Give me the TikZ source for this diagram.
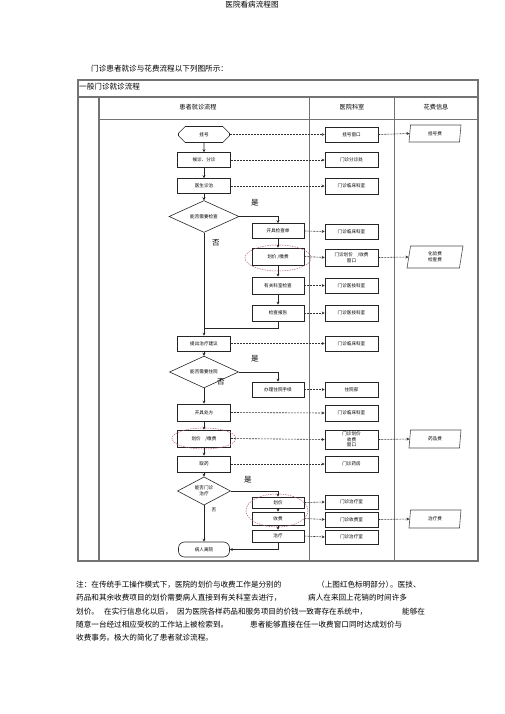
\documentclass[tikz,border=0pt]{standalone}
\usepackage{fontspec}
\newfontfamily\cjk{Noto Sans CJK SC}
\usetikzlibrary{shapes.geometric,shapes.misc,arrows.meta}
\definecolor{gridgray}{RGB}{115,115,115}
\definecolor{ovalred}{RGB}{180,100,110}
\newcommand\pagefont{\cjk\fontsize{7.6}{9}\selectfont}
\newcommand\boxfont{\cjk\fontsize{4.6}{5.6}\selectfont}

\begin{document}
\begin{tikzpicture}[x=1pt,y=-1pt]
\tikzset{stepbox/.style={draw=black!85, line width=0.6pt, minimum width=53pt, minimum height=15pt, inner sep=0pt, align=center, font=\boxfont},
  sidebox/.style={stepbox, minimum width=52pt},
  hexbox/.style={stepbox, chamfered rectangle, chamfered rectangle xsep=6pt, chamfered rectangle ysep=8pt, minimum width=51pt, minimum height=16pt},
  ask/.style={draw=black!85, line width=0.6pt, diamond, inner sep=0pt, align=center, font=\boxfont},
  costbox/.style={draw=black!70, line width=0.6pt, trapezium, trapezium left angle=70, trapezium right angle=110, trapezium stretches body, minimum width=52pt, minimum height=17pt, inner sep=0pt, align=center, font=\boxfont},
  flow/.style={draw=black!85, line width=0.6pt, -{Stealth[length=3pt,width=3pt]}},
  link/.style={draw=black!85, line width=0.6pt},
  cost/.style={draw=black!80, line width=0.6pt, dash pattern=on 2pt off 1pt, -{Stealth[length=3pt,width=3pt]}},
  oval/.style={draw=ovalred, line width=0.5pt, dash pattern=on 1.5pt off 1pt},
  yesno/.style={font=\pagefont, inner sep=0pt},
  txt/.style={font=\pagefont, inner sep=0pt, anchor=west}}
    \useasboundingbox (0,0) rectangle (505,714);

    % page text
    \node[font=\pagefont, inner sep=0pt] at (252,5) (title) {医院看病流程图};
    \node[txt] at (91,69) (intro) {门诊患者就诊与花费流程以下列图所示：};

    % table frame
    \draw[gridgray, line width=1.1pt] (78,80) rectangle (478,561);
    \draw[gridgray, line width=1.1pt] (78,97) -- (478,97);
    \draw[gridgray, line width=1.1pt] (99,97) -- (99,561);
    \draw[gridgray, line width=1pt] (99,120) -- (478,120);
    \draw[gridgray, line width=1pt] (309,97) -- (309,561);
    \draw[gridgray, line width=1pt] (394,97) -- (394,561);
    \node[txt] at (79,87) (t_0) {一般门诊就诊流程};
    \node[font=\cjk\fontsize{6.2}{7}\selectfont] at (198,107) (h_1) {患者就诊流程};
    \node[font=\cjk\fontsize{6.2}{7}\selectfont] at (352,107) (h_2) {医院科室};
    \node[font=\cjk\fontsize{6.2}{7}\selectfont] at (436,107) (h_3) {花费信息};

    % patient steps
    \node[hexbox] at (204,134.5) (p_1) {挂号};
    \node[stepbox] at (204,160) (p_2) {候诊、分诊};
    \node[stepbox] at (204,186) (p_3) {医生诊治};
    \node[ask, minimum width=70pt, minimum height=21pt] at (204,216.5) (d_1) {能否需要检查};
    \node[sidebox] at (278,231) (p_4) {开具检查单};
    \node[sidebox, minimum height=17pt] at (278,256.5) (p_5) {划价 /缴费};
    \node[sidebox, minimum height=17pt] at (278,285.5) (p_6) {有关科室检查};
    \node[sidebox, minimum height=16pt] at (278,313) (p_7) {检查报告};
    \node[stepbox] at (204,343.5) (p_8) {提出治疗建议};
    \node[ask, minimum width=69pt, minimum height=22pt] at (204,372) (d_2) {能否需要住院};
    \node[sidebox] at (278,389.5) (p_9) {办理住院手续};
    \node[stepbox, minimum height=17pt] at (204,412.5) (p_10) {开具处方};
    \node[stepbox, minimum height=17pt] at (204,438.5) (p_11) {划价　/缴费};
    \node[stepbox, minimum height=16pt] at (204,464) (p_12) {取药};
    \node[ask, minimum width=53pt, minimum height=26pt] at (204,491) (d_3) {能否门诊\\治疗};
    \node[sidebox, minimum height=11pt] at (278,502.5) (p_13) {划价};
    \node[sidebox, minimum height=13pt] at (278,518.5) (p_14) {收费};
    \node[sidebox, minimum height=12pt] at (278,536) (p_15) {治疗};
    \node[stepbox, rounded corners=6pt, minimum width=51pt] at (204,549.5) (p_16) {病人离院};

    \node[yesno] at (255,203) (y_1) {是};
    \node[yesno] at (216,243) (n_1) {否};
    \node[yesno] at (255,359) (y_2) {是};
    \node[yesno] at (221,382) (n_2) {否};
    \node[yesno] at (248,480) (y_3) {是};
    \node[yesno, font=\boxfont] at (214,510) (n_3) {否};

    % hospital rooms
    \node[stepbox] at (351.5,134.5) (c_1) {挂号窗口};
    \node[stepbox] at (351.5,160) (c_2) {门诊分诊处};
    \node[stepbox, minimum height=16pt] at (351.5,186) (c_3) {门诊临床科室};
    \node[stepbox] at (351.5,231.5) (c_4) {门诊临床科室};
    \node[stepbox, minimum height=17pt] at (351.5,257.5) (c_5) {门诊划价　/收费\\窗口};
    \node[stepbox] at (351.5,285.5) (c_6) {门诊医技科室};
    \node[stepbox, minimum height=16pt] at (351.5,313) (c_7) {门诊医技科室};
    \node[stepbox] at (351.5,343.5) (c_8) {门诊临床科室};
    \node[stepbox] at (351.5,389.5) (c_9) {住院部};
    \node[stepbox, minimum height=16pt] at (351.5,413) (c_10) {门诊临床科室};
    \node[stepbox, minimum height=19pt] at (351.5,439.5) (c_11) {门诊划价\\收费\\窗口};
    \node[stepbox, minimum height=16pt] at (351.5,464) (c_12) {门诊药房};
    \node[stepbox, minimum height=14pt] at (351.5,502) (c_13) {门诊治疗室};
    \node[stepbox, minimum height=15pt] at (351.5,519.5) (c_14) {门诊收费室};
    \node[stepbox, minimum height=14pt] at (351.5,537) (c_15) {门诊治疗室};

    % costs
    \node[costbox] at (435,133.5) (f_1) {挂号费};
    \node[costbox, minimum height=22pt, minimum width=56pt] at (435,257) (f_2) {化验费\\检查费};
    \node[costbox, minimum height=18pt] at (435,439) (f_3) {药品费};
    \node[costbox, minimum height=18pt] at (435,519) (f_4) {治疗费};

    % red marks
    \draw[oval] (278,258) ellipse (33 and 13);
    \draw[oval] (204,438.5) ellipse (32 and 10.5);
    \draw[oval] (277,510.5) ellipse (31 and 16.5);

    % flow
    \draw[flow] (p_1) -- (p_2);
    \draw[flow] (p_2) -- (p_3);
    \draw[flow] (p_3) -- (d_1);
    \draw[flow] (d_1.east) -| (p_4.north);
    \draw[flow] (p_4) -- (p_5);
    \draw[flow] (p_5) -- (p_6);
    \draw[flow] (p_6) -- (p_7);
    \coordinate (j_1) at (204,328);
    \draw[link] (p_7.south) |- (j_1);
    \draw[flow] (d_1.south) -- (p_8.north);
    \draw[flow] (p_8) -- (d_2);
    \draw[flow] (d_2.east) -| (p_9.north);
    \draw[flow] (d_2.south) -- (p_10.north);
    \draw[flow] (p_10) -- (p_11);
    \draw[flow] (p_11) -- (p_12);
    \draw[flow] (p_12) -- (d_3);
    \draw[flow] (d_3.east) -| (p_13.north);
    \draw[flow] (p_13) -- (p_14);
    \draw[flow] (p_14) -- (p_15);
    \draw[flow] (d_3.south) -- (p_16.north);
    \draw[flow] (p_15.south) |- (p_16.east);

    % to rooms
    \draw[cost] (p_1.east) -- (c_1.west);
    \draw[cost] (p_2.east) -- (c_2.west);
    \draw[cost] (p_3.east) -- (c_3.west);
    \draw[cost] (p_4.east) -- (c_4.west);
    \draw[cost] (p_5.east) -- (c_5.west);
    \draw[cost] (p_6.east) -- (c_6.west);
    \draw[cost] (p_7.east) -- (c_7.west);
    \draw[cost] (p_8.east) -- (c_8.west);
    \draw[cost] (p_9.east) -- (c_9.west);
    \draw[cost] (p_10.east) -- (c_10.west);
    \draw[cost] (p_11.east) -- (c_11.west);
    \draw[cost] (p_12.east) -- (c_12.west);
    \draw[cost] (p_13.east) -- (c_13.west);
    \draw[cost] (p_14.east) -- (c_14.west);
    \draw[cost] (p_15.east) -- (c_15.west);

    % to costs
    \draw[cost] (c_1.east) -- (f_1.west);
    \draw[cost] (c_5.east) -- (f_2.west);
    \draw[cost] (c_11.east) -- (f_3.west);
    \draw[cost] (c_14.east) -- (f_4.west);

    % note
    \node[txt] at (76,585) (m_1) {注：在传统手工操作模式下，医院的划价与收费工作是分别的};
    \node[txt] at (317,585) (m_2) {（上图红色标明部分）};
    \node[txt] at (390,585) (m_3) {。医技、};
    \node[txt] at (76,598) (m_4) {药品和其余收费项目的划价需要病人直接到有关科室去进行，};
    \node[txt] at (308,598) (m_5) {病人在来回上花销的时间许多};
    \node[txt] at (76,612) (m_6) {划价。};
    \node[txt] at (104,612) (m_7) {在实行信息化以后，};
    \node[txt] at (177,612) (m_8) {因为医院各样药品和服务项目的价钱一致寄存在系统中，};
    \node[txt] at (402,612) (m_9) {能够在};
    \node[txt] at (76,625) (m_10) {随意一台经过相应受权的工作站上被检索到。};
    \node[txt] at (250,625) (m_11) {患者能够直接在任一收费窗口同时达成划价与};
    \node[txt] at (76,638) (m_12) {收费事务。极大的简化了患者就诊流程。};
  \end{tikzpicture}
\end{document}
